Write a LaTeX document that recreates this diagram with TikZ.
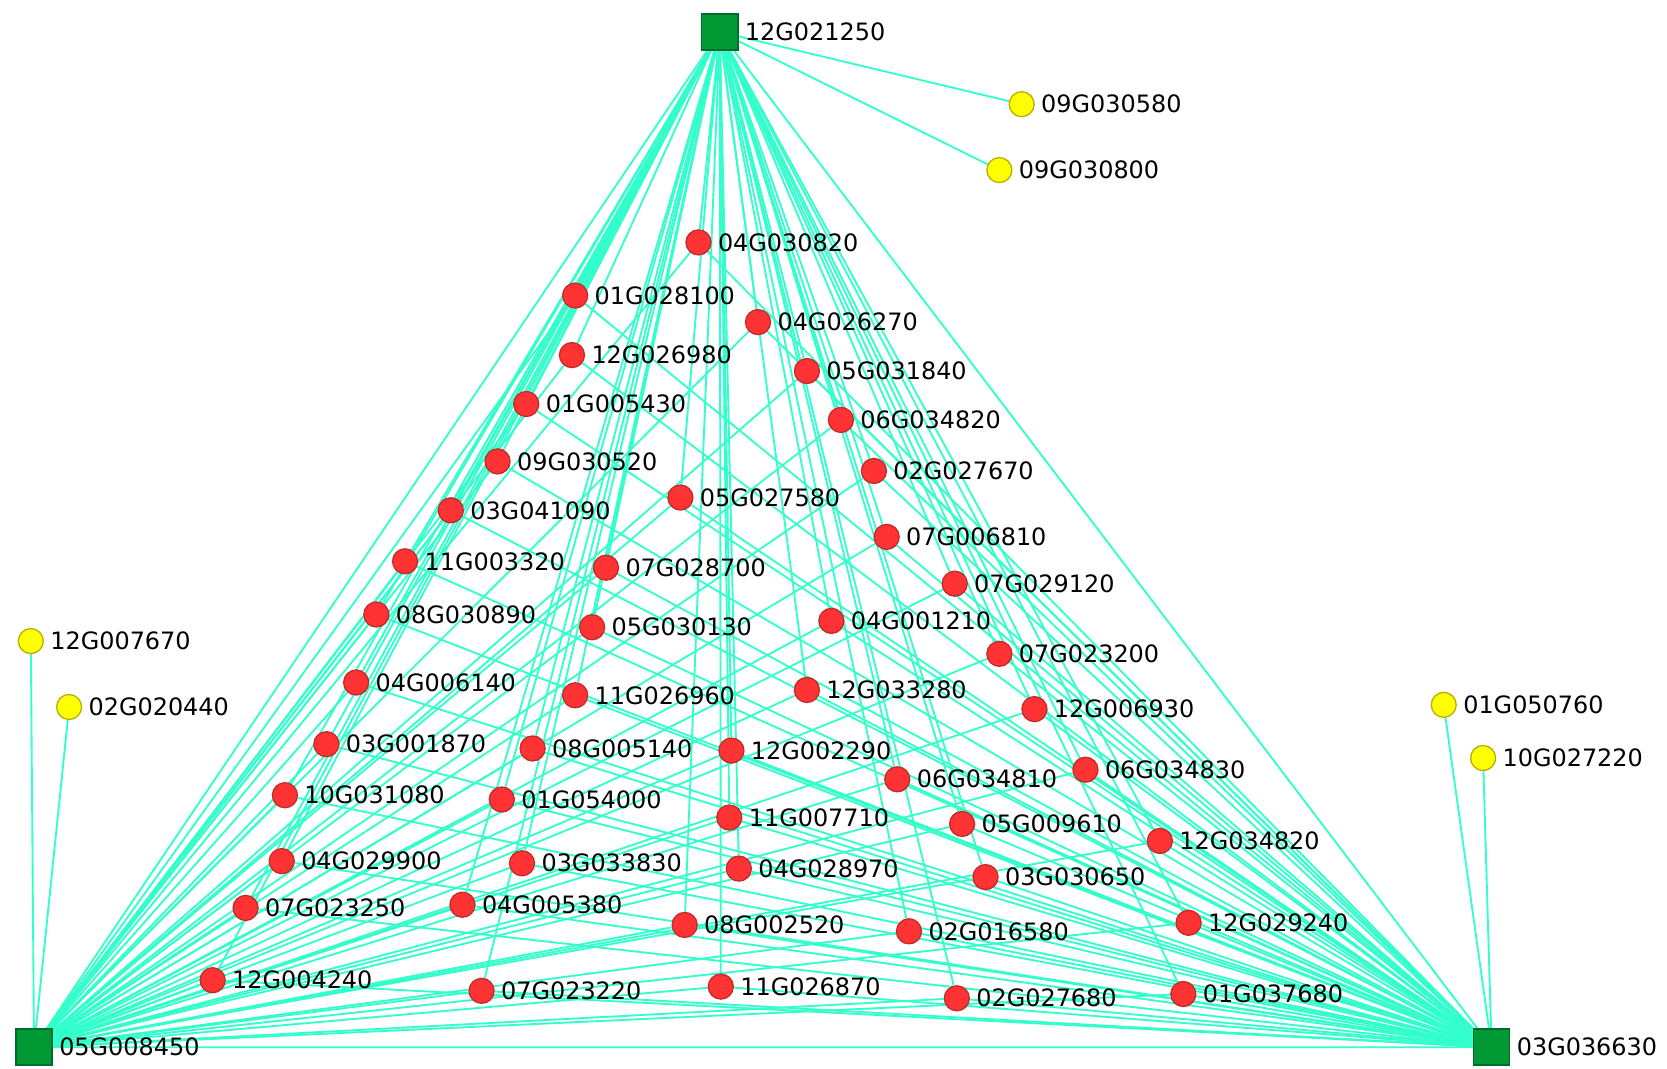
\documentclass[tikz,border=0pt]{standalone}
\usepackage{fontspec}
\setmainfont{DejaVu Sans}
\usetikzlibrary{backgrounds}
\definecolor{HubFill}{HTML}{009933}
\definecolor{HubLine}{HTML}{006B2A}
\definecolor{GeneFill}{HTML}{FF3333}
\definecolor{GeneLine}{HTML}{C42A2A}
\definecolor{LoneFill}{HTML}{FFFF00}
\definecolor{LoneLine}{HTML}{B8B000}
\definecolor{EdgeCyan}{HTML}{33FFCC}

\begin{document}
\begin{tikzpicture}[x=0.4pt,y=-0.4pt,font=\fontsize{9pt}{10pt}\selectfont,
      lbl/.style={label distance=0pt,inner sep=2.2pt},
      hub/.style={rectangle,draw=HubLine,fill=HubFill,line width=0.6pt,minimum size=13.6pt,inner sep=0pt,label={[lbl]right:#1}},
      gene/.style={circle,draw=GeneLine,fill=GeneFill,line width=0.5pt,minimum size=9.4pt,inner sep=0pt,label={[lbl]right:#1}},
      lone/.style={circle,draw=LoneLine,fill=LoneFill,line width=0.5pt,minimum size=9.4pt,inner sep=0pt,label={[lbl]right:#1}},
      edge/.style={draw=EdgeCyan,line width=0.7pt}]
  \useasboundingbox (0,0) rectangle (1568,1005);
  % hubs
  \node[hub=12G021250] (gTop) at (677,30) {};
  \node[hub=05G008450] (gLeft) at (32,985) {};
  \node[hub=03G036630] (gRight) at (1403,985) {};
  % single partners
  \node[lone=09G030580] (y1) at (961,98) {};
  \node[lone=09G030800] (y2) at (940,160) {};
  \node[lone=12G007670] (y3) at (29,603) {};
  \node[lone=02G020440] (y4) at (65,665) {};
  \node[lone=01G050760] (y5) at (1358,663) {};
  \node[lone=10G027220] (y6) at (1395,713) {};
  % shared genes
  \node[gene=04G030820] (r1) at (657,228) {};
  \node[gene=01G028100] (r2) at (541,278) {};
  \node[gene=04G026270] (r3) at (713,303) {};
  \node[gene=12G026980] (r4) at (538,334) {};
  \node[gene=05G031840] (r5) at (759,349) {};
  \node[gene=01G005430] (r6) at (495,380) {};
  \node[gene=06G034820] (r7) at (791,395) {};
  \node[gene=09G030520] (r8) at (468,434) {};
  \node[gene=02G027670] (r9) at (822,443) {};
  \node[gene=05G027580] (r10) at (640,468) {};
  \node[gene=03G041090] (r11) at (424,480) {};
  \node[gene=07G006810] (r12) at (834,505) {};
  \node[gene=11G003320] (r13) at (381,528) {};
  \node[gene=07G028700] (r14) at (570,534) {};
  \node[gene=07G029120] (r15) at (898,549) {};
  \node[gene=08G030890] (r16) at (354,578) {};
  \node[gene=05G030130] (r17) at (557,590) {};
  \node[gene=04G001210] (r18) at (782,584) {};
  \node[gene=07G023200] (r19) at (940,615) {};
  \node[gene=04G006140] (r20) at (335,642) {};
  \node[gene=11G026960] (r21) at (541,654) {};
  \node[gene=12G033280] (r22) at (759,649) {};
  \node[gene=12G006930] (r23) at (973,667) {};
  \node[gene=03G001870] (r24) at (307,700) {};
  \node[gene=08G005140] (r25) at (501,704) {};
  \node[gene=12G002290] (r26) at (688,706) {};
  \node[gene=06G034830] (r27) at (1021,724) {};
  \node[gene=06G034810] (r28) at (844,733) {};
  \node[gene=10G031080] (r29) at (268,748) {};
  \node[gene=01G054000] (r30) at (472,752) {};
  \node[gene=11G007710] (r31) at (686,769) {};
  \node[gene=05G009610] (r32) at (905,775) {};
  \node[gene=12G034820] (r33) at (1091,791) {};
  \node[gene=04G029900] (r34) at (265,810) {};
  \node[gene=03G033830] (r35) at (491,812) {};
  \node[gene=04G028970] (r36) at (695,817) {};
  \node[gene=03G030650] (r37) at (927,825) {};
  \node[gene=07G023250] (r38) at (231,854) {};
  \node[gene=04G005380] (r39) at (435,851) {};
  \node[gene=08G002520] (r40) at (644,870) {};
  \node[gene=02G016580] (r41) at (855,876) {};
  \node[gene=12G029240] (r42) at (1118,868) {};
  \node[gene=12G004240] (r43) at (200,922) {};
  \node[gene=07G023220] (r44) at (453,932) {};
  \node[gene=11G026870] (r45) at (678,928) {};
  \node[gene=02G027680] (r46) at (900,939) {};
  \node[gene=01G037680] (r47) at (1113,935) {};
  % connectors, behind the nodes
  \begin{pgfonlayer}{background}
    \foreach \i in {1,...,47} {
      \draw[edge] (gTop) -- (r\i);
      \draw[edge] (gLeft) -- (r\i);
      \draw[edge] (gRight) -- (r\i);
    }
    \draw[edge] (gTop) -- (gLeft) -- (gRight) -- (gTop);
    \draw[edge] (gTop) -- (y1); \draw[edge] (gTop) -- (y2);
    \draw[edge] (gLeft) -- (y3); \draw[edge] (gLeft) -- (y4);
    \draw[edge] (gRight) -- (y5); \draw[edge] (gRight) -- (y6);
  \end{pgfonlayer}
\end{tikzpicture}
\end{document}
